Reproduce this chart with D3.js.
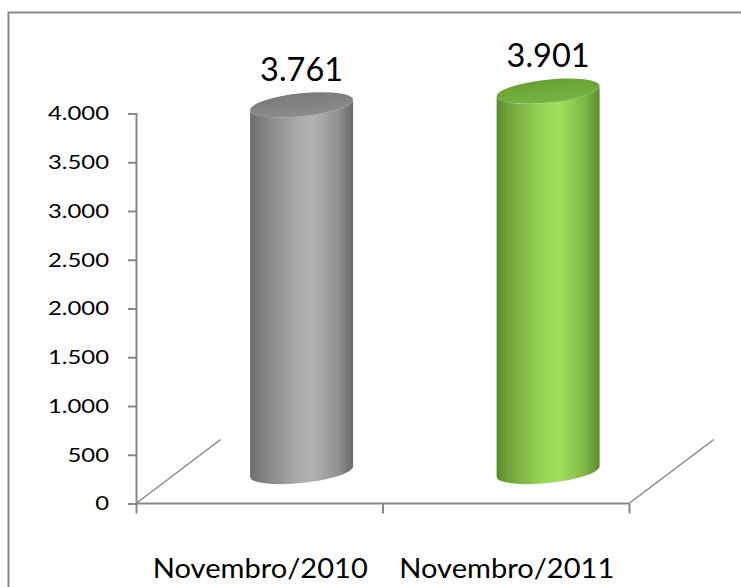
<!DOCTYPE html>
<html><head><meta charset="utf-8">
<script src="https://cdn.jsdelivr.net/npm/d3@7"></script>
<style>body{margin:0;background:#fff} svg{display:block} text{font-family:Lato,"Open Sans",sans-serif;fill:#000}</style>
</head><body><svg id="c" width="741" height="587"></svg>
<script>
const categories = ["Novembro/2010", "Novembro/2011"];
const values = [3761, 3901];
const yTicks = [0, 500, 1000, 1500, 2000, 2500, 3000, 3500, 4000];
const sideStops = [
  [["0%","#6c6c6c"],["10%","#7e7e7e"],["45%","#a9a9a9"],["60%","#b3b3b3"],["85%","#929292"],["100%","#6a6a6a"]],
  [["0%","#5a8a2c"],["10%","#70a23c"],["45%","#96d554"],["60%","#a0df5c"],["85%","#80b946"],["100%","#5a8a2c"]]
];
const topStops = [
  [["0%","#7a7a7a"],["100%","#8c8c8c"]],
  [["0%","#68a035"],["100%","#78b342"]]
];

const loc = d3.formatLocale({decimal:",", thousands:".", grouping:[3], currency:["R$",""]});
const fmt = loc.format(",");

const svg = d3.select("#c");
const defs = svg.append("defs");

// stretch text horizontally so that a reference string reaches the reference width
function stretch(sel, factor) {
  sel.each(function() {
    const w = this.getComputedTextLength();
    d3.select(this).attr("textLength", w * factor).attr("lengthAdjust", "spacingAndGlyphs");
  });
}

// frame
svg.append("rect").attr("x",8.5).attr("y",12.5).attr("width",800).attr("height",700)
  .attr("fill","none").attr("stroke","#878787").attr("stroke-width",2);

const x = d3.scaleBand().domain(categories).range([136, 629]).paddingInner(0).paddingOuter(0);
const xEdge = d3.scaleLinear().domain([0, categories.length]).range([136, 629]);
const y = d3.scaleLinear().domain([0, 4000]).range([503.5, 113.5]);
const depth = {dx: 84.7, dy: -64};
const axisColor = "#878787";

// floor diagonals
[0, categories.length].forEach(i => {
  svg.append("line").attr("x1", xEdge(i)).attr("y1", y(0))
    .attr("x2", xEdge(i) + depth.dx).attr("y2", y(0) + depth.dy)
    .attr("stroke", axisColor).attr("stroke-width", 1.5);
});

// y axis
const ya = svg.append("g").attr("transform","translate(136,0)")
  .call(d3.axisLeft(y).tickValues(yTicks).tickSize(8).tickPadding(19).tickFormat(fmt));
ya.selectAll("path,line").attr("stroke", axisColor).attr("stroke-width", 2);
const yt = ya.selectAll("text").attr("font-size", 20).attr("font-family","Lato").attr("fill","#000");
const refTick = yt.filter(d => d === 4000).node().getComputedTextLength();
stretch(yt, 61 / refTick);

// x axis (ticks at band edges)
const xa = svg.append("g").attr("transform",`translate(0,${y(0)})`)
  .call(d3.axisBottom(xEdge).tickValues(d3.range(categories.length+1)).tickSize(10).tickFormat(""));
xa.selectAll("path,line").attr("stroke", axisColor).attr("stroke-width", 2);
xa.select("path").attr("d", `M136,0H629`);

const ct = svg.append("g").selectAll("text").data(categories).join("text")
  .attr("x", d => x(d) + x.bandwidth()/2 + 1).attr("y", 577.5)
  .attr("text-anchor","middle").attr("font-size", 27).text(d => d);
stretch(ct, 215 / ct.node().getComputedTextLength());

// cylinders
const bw = x.bandwidth() * 0.42;
const a = bw / 2, b = 11.5, thDeg = -6, th = thDeg * Math.PI / 180;
const t0 = Math.atan2(-b * Math.sin(th), a * Math.cos(th));
const W = a * Math.cos(th) * Math.cos(t0) - b * Math.sin(th) * Math.sin(t0);
const hR = a * Math.sin(th) * Math.cos(t0) + b * Math.cos(th) * Math.sin(t0);

values.forEach((v, i) => {
  const gid = "side" + i, tid = "top" + i;
  const g1 = defs.append("linearGradient").attr("id", gid).attr("x1","0").attr("x2","1").attr("y1","0").attr("y2","0");
  sideStops[i].forEach(s => g1.append("stop").attr("offset", s[0]).attr("stop-color", s[1]));
  const g2 = defs.append("linearGradient").attr("id", tid).attr("x1","0").attr("x2","0").attr("y1","0").attr("y2","1");
  topStops[i].forEach(s => g2.append("stop").attr("offset", s[0]).attr("stop-color", s[1]));

  const cx = x(categories[i]) + x.bandwidth()/2 + depth.dx/2;
  const yB = y(0) + depth.dy/2;
  const yT = y(v) + depth.dy/2;
  const p = `M${cx+W},${yT+hR} L${cx+W},${yB+hR} A${a},${b} ${thDeg} 0 1 ${cx-W},${yB-hR} L${cx-W},${yT-hR} A${a},${b} ${thDeg} 0 0 ${cx+W},${yT+hR} Z`;
  svg.append("path").attr("d", p).attr("fill", `url(#${gid})`);
  svg.append("ellipse").attr("cx", cx).attr("cy", yT).attr("rx", a).attr("ry", b)
    .attr("transform", `rotate(${thDeg},${cx},${yT})`).attr("fill", `url(#${tid})`);
  const vt = svg.append("text").attr("x", cx).attr("y", yT - 24).attr("text-anchor","middle")
    .attr("font-size", 32).text(fmt(v));
  stretch(vt, 83 / vt.node().getComputedTextLength());
});
</script></body></html>
